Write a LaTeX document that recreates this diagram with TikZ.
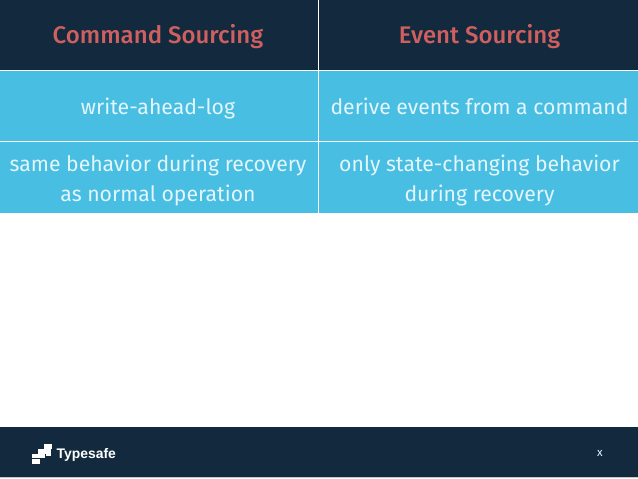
\documentclass[tikz,border=0pt]{standalone}
\usepackage{fontspec}
\setmainfont{Fira Sans}
\newfontfamily\logofont{Liberation Sans}
\newfontfamily\headfont{Fira Sans Medium}
\definecolor{navy}{HTML}{12293E}
\definecolor{sky}{HTML}{48BEE3}
\definecolor{coral}{HTML}{D0605F}
\definecolor{pale}{HTML}{E4F5FB}
\tikzset{
  cellbody/.style={text=pale,font=\fontsize{21.2}{29.5}\selectfont,align=center,inner sep=0pt,anchor=base},
  headtext/.style={text=coral,font=\headfont\fontsize{24}{27}\selectfont,inner sep=0pt,anchor=base},
  rulewhite/.style={draw=white,line width=1pt},
}
\begin{document}
\begin{tikzpicture}[x=1pt,y=-1pt]
\useasboundingbox (0,0) rectangle (638,479);
\fill[white] (0,0) rectangle (638,479);
\fill[navy] (0,0) rectangle (638,70);
\fill[sky] (0,70) rectangle (638,213);
\fill[navy] (0,427) rectangle (638,476.5);
\fill[gray!45] (0,476.5) rectangle (638,478);
\draw[rulewhite] (0,70.5) -- (638,70.5);
\draw[rulewhite] (0,141) -- (638,141);
\draw[rulewhite] (318.5,0) -- (318.5,213);
\node[headtext] (h1) at (158,43.5) {Command Sourcing};
\node[headtext] (h2) at (479.5,43.5) {Event Sourcing};
\node[cellbody] (a1) at (158,114.5) {write-ahead-log};
\node[cellbody] (a2) at (479.5,114.5) {derive events from a command};
\node[cellbody] (b1) at (158,171.5) {same behavior during recovery};
\node[cellbody] (b1b) at (158,201) {as normal operation};
\node[cellbody] (b2) at (479.5,171.5) {only state-changing behavior};
\node[cellbody] (b2b) at (479.5,201) {during recovery};
% logo
\fill[white] (43.5,444) rectangle (52,449);
\fill[white] (38,449) rectangle (50.5,453.8);
\fill[white] (32,453.8) rectangle (45,458.3);
\fill[white] (46,454) rectangle (51,455.5);
\fill[white] (32,459.3) rectangle (39.5,464);
\node[text=white,font=\logofont\bfseries\fontsize{13.9}{16}\selectfont,inner sep=0pt,anchor=base west] (logo) at (56.5,458) {Typesafe};
\node[text=pale,font=\fontsize{11.5}{12}\selectfont,inner sep=0pt,anchor=base] (pg) at (600,456.5) {x};
\end{tikzpicture}
\end{document}
